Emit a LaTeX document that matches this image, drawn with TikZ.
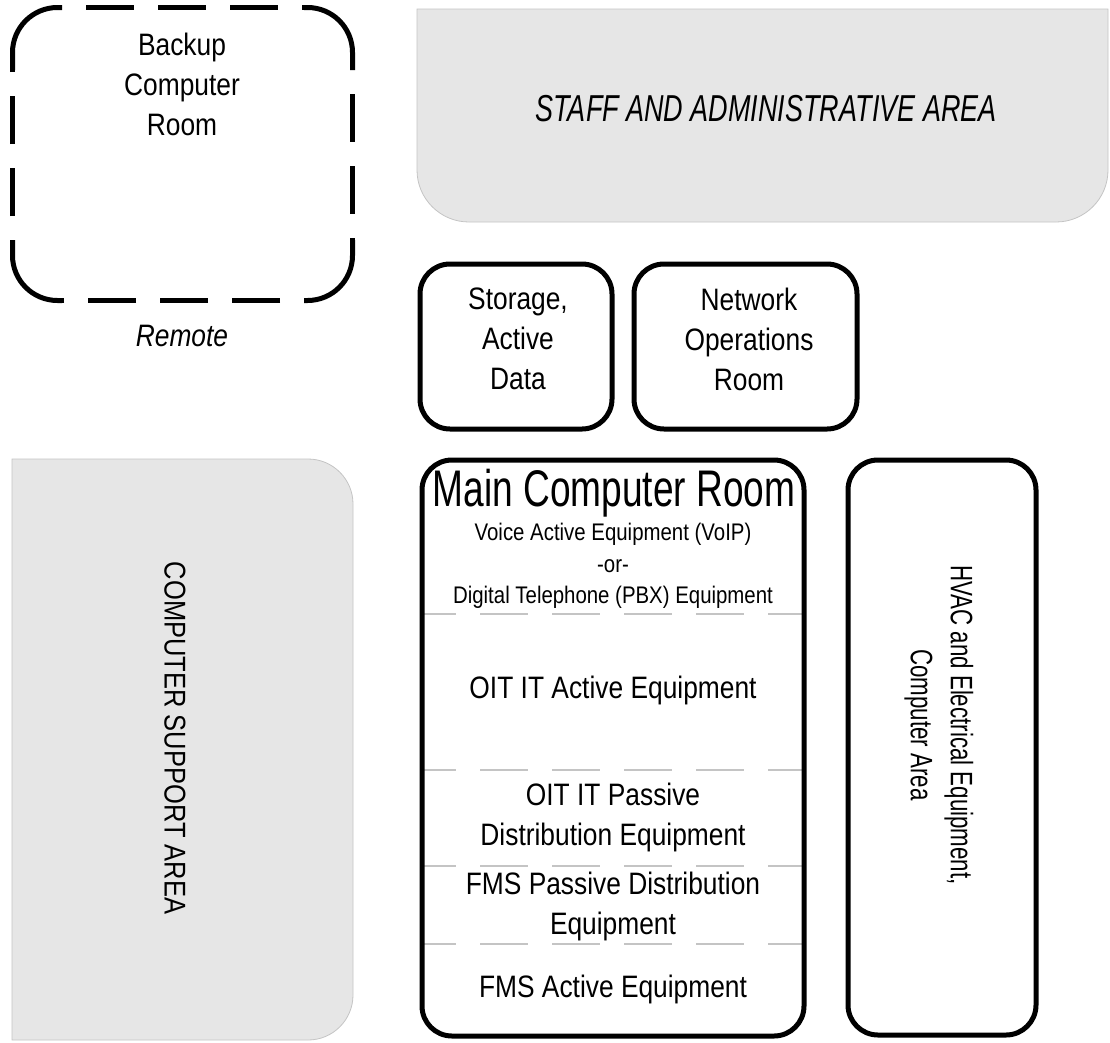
\documentclass[tikz,border=0pt]{standalone}
\usepackage{fontspec}
\setmainfont[FakeStretch=0.85]{Liberation Sans}
\newfontfamily\narrowsans[FakeStretch=0.72]{Liberation Sans}
\definecolor{areagray}{HTML}{E6E6E6}
\definecolor{linegray}{HTML}{C4C4C4}

\tikzset{
  room/.style={draw, line width=5pt, rounded corners=30pt, inner sep=0pt},
  zone/.style={fill=areagray, draw=linegray, line width=0.8pt},
  divider/.style={draw=linegray, line width=1.5pt, dash pattern=on 48pt off 24pt, dash phase=14pt},
  txt/.style={align=center, font=\fontsize{31}{40}\selectfont},
  smalltxt/.style={align=center, font=\fontsize{24}{31.5}\selectfont},
}

\begin{document}
\begin{tikzpicture}[x=1pt, y=-1pt]
  \useasboundingbox (0,0) rectangle (1110,1042);

  % Grey areas
  \path[zone] (417,9) -- (1108,9) -- (1108,120) [rounded corners=52pt] -- (1108,222) -- (417,222) -- (417,120) [sharp corners] -- cycle;
  \path[zone] (12,459) -- (200,459) [rounded corners=45pt] -- (353,459) -- (353,1040) -- (200,1040) [sharp corners] -- (12,1040) -- cycle;
  \node[font=\narrowsans\itshape\fontsize{37.5}{44}\selectfont] (staff) at (766,109) {STAFF AND ADMINISTRATIVE AREA};
  \node[rotate=-90, font=\fontsize{30}{38}\selectfont] (support) at (175,738) {COMPUTER SUPPORT AREA};

  % Backup room (remote)
  \draw[line width=5pt, rounded corners=45pt] (12.5,70) -- (12.5,7.5) -- (62,7.5) (304,7.5) -- (352.5,7.5) -- (352.5,70)
    (352.5,240) -- (352.5,300.5) -- (304,300.5) (62,300.5) -- (12.5,300.5) -- (12.5,240);
  \draw[line width=5pt, dash pattern=on 48pt off 24pt, dash phase=48pt] (62,7.5) -- (304,7.5) (352.5,70) -- (352.5,240)
    (304,300.5) -- (62,300.5) (12.5,240) -- (12.5,70);
  \node[txt] (backup) at (182,84) {Backup\\Computer\\Room};
  \node[txt, font=\itshape\fontsize{31}{40}\selectfont] (remote) at (182,336) {Remote};

  % Storage and NOC
  \node[room, minimum width=192pt, minimum height=165pt] (storage) at (516,346.5) {};
  \node[txt] (storagetxt) at (518,339) {Storage,\\Active\\Data};
  \node[room, minimum width=223pt, minimum height=165pt] (noc) at (745.5,346.5) {};
  \node[txt] (noctxt) at (749,339) {Network\\Operations\\Room};

  % Main computer room
  \foreach \y in {614,770,866,944}
    \draw[divider] (422,\y) -- (804,\y);
  \node[room, minimum width=382pt, minimum height=576pt] (main) at (613,748) {};
  \node[font=\narrowsans\fontsize{51.5}{56}\selectfont] (maintitle) at (614,493) {Main Computer Room};
  \node[smalltxt] (voice) at (613,566) {Voice Active Equipment (VoIP)\\-or-\\Digital Telephone (PBX) Equipment};
  \node[txt] (oitactive) at (613,690) {OIT IT Active Equipment};
  \node[txt] (oitpassive) at (613,817) {OIT IT Passive\\Distribution Equipment};
  \node[txt] (fmspassive) at (613,906) {FMS Passive Distribution\\Equipment};
  \node[txt] (fmsactive) at (613,989) {FMS Active Equipment};

  % HVAC
  \node[room, minimum width=188pt, minimum height=575pt] (hvac) at (942,747.5) {};
  \node[txt, rotate=-90, font=\narrowsans\fontsize{31}{40}\selectfont] (hvactxt) at (939,725) {HVAC and Electrical Equipment,\\Computer Area};
\end{tikzpicture}
\end{document}
